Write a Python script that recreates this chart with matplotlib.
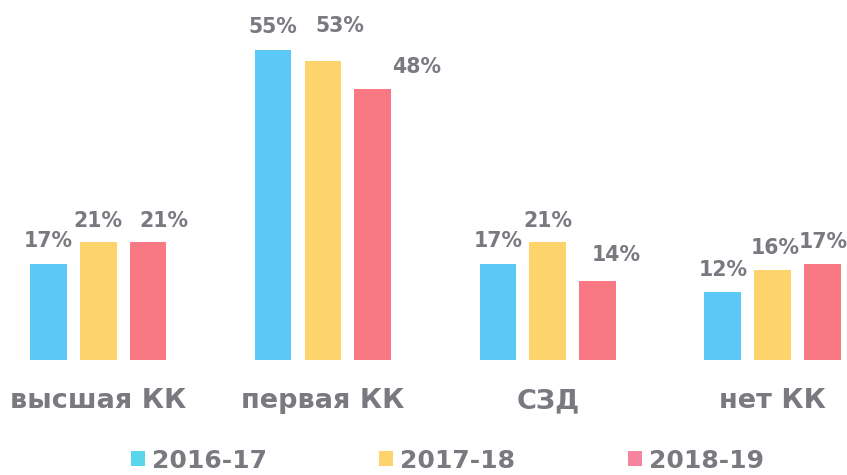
import matplotlib
matplotlib.use("Agg")
import matplotlib.pyplot as plt
from matplotlib.patches import Rectangle
import numpy as np

plt.rcParams["font.family"] = ["DejaVu Sans"]

categories = ["высшая КК", "первая КК", "СЗД", "нет КК"]
years = ["2016-17", "2017-18", "2018-19"]
v_2016 = [17, 55, 17, 12]
v_2017 = [21, 53, 21, 16]
v_2018 = [21, 48, 14, 17]
series = [v_2016, v_2017, v_2018]
colors = ["#5bc8f6", "#fdd46c", "#f87884"]
legend_colors = ["#5ad6ea", "#fdd46c", "#f6849e"]
text_gray = "#7a7980"

# label nudges in pixels (dx, gap above bar), per series / category
label_dx = [[0, 0, 0, 0], [0, 17, 0, 2], [16, 44, 18, 0]]
label_gap = [[17, 17, 17, 16], [15, 29, 15, 16], [15, 16, 20, 16]]

W, H = 847, 475
fig = plt.figure(figsize=(W / 100, H / 100), dpi=100)
ax = fig.add_axes([0, 115 / H, 1, 360 / H])

x = np.arange(len(categories))
width = 0.164
step = 0.222
for k, (vals, col) in enumerate(zip(series, colors)):
    pos = x + (k - 1) * step
    ax.bar(pos, vals, width=width, color=col, edgecolor="none")
    for i, (p, v) in enumerate(zip(pos, vals)):
        ax.annotate(f"{v}%", (p, v), xytext=(label_dx[k][i], label_gap[k][i]),
                    textcoords="offset pixels", ha="center", va="baseline",
                    fontsize=14.8, fontweight="bold", color=text_gray)

ax.set_xlim(-0.436, 3.33)
ax.set_ylim(0, 360 / 5.64)
ax.axis("off")

fig.canvas.draw()
for xi, c in zip(x, categories):
    xf = ax.transData.transform((xi, 0))[0] / W
    fig.text(xf, 1 - 408 / H, c, ha="center", va="baseline",
             fontsize=19.5, fontweight="bold", color=text_gray)

# legend drawn manually
leg_x = [131, 379, 628]
for lx, lab, col in zip(leg_x, years, legend_colors):
    fig.patches.append(Rectangle((lx / W, 1 - 466 / H), 14 / W, 15 / H,
                                 transform=fig.transFigure, facecolor=col,
                                 edgecolor="none"))
    fig.text((lx + 21) / W, 1 - 468 / H, lab, ha="left", va="baseline",
             fontsize=18, fontweight="bold", color=text_gray)

fig.savefig("out.png", dpi=100)
